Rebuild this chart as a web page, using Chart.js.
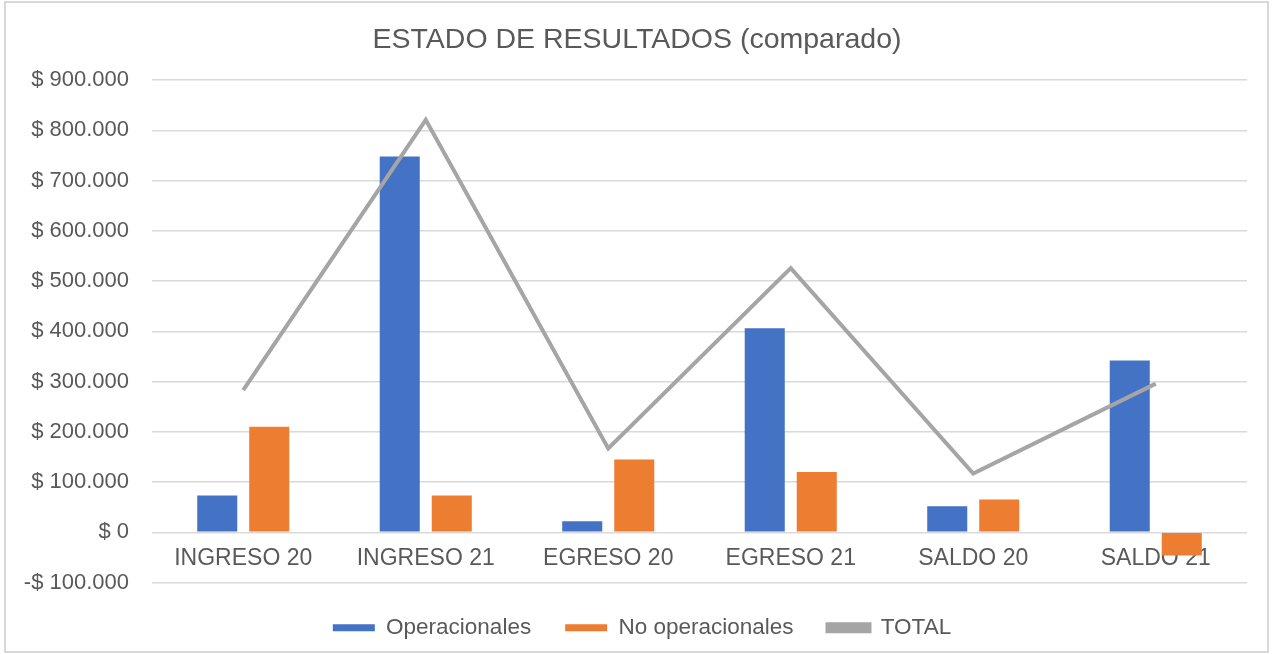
<!DOCTYPE html>
<html>
<head>
<meta charset="utf-8">
<script src="https://cdn.jsdelivr.net/npm/chart.js@4.4.1/dist/chart.umd.min.js"></script>
<style>
  html, body { margin: 0; padding: 0; background: #ffffff; }
  #wrap { position: absolute; left: 0; top: 0; width: 1272px; height: 654px; }
</style>
</head>
<body>
<div id="wrap"><canvas id="c" width="1272" height="654"></canvas></div>
<script>
const categories = ['INGRESO 20', 'INGRESO 21', 'EGRESO 20', 'EGRESO 21', 'SALDO 20', 'SALDO 21'];
const operacionales = [73000, 748000, 22000, 406000, 52000, 342000];
const noOperacionales = [210000, 73000, 145000, 120000, 65000, -46000];
const total = [283000, 821000, 167000, 526000, 117000, 296000];
const seriesNames = ['Operacionales', 'No operacionales', 'TOTAL'];
const chartTitle = 'ESTADO DE RESULTADOS (comparado)';

const textColor = '#595959';
const fontFamily = '"Liberation Sans", Arial, sans-serif';

function fmtMoney(v) {
  const abs = Math.abs(v);
  const s = abs.toString().replace(/\B(?=(\d{3})+(?!\d))/g, '.');
  return (v < 0 ? '-$ ' : '$ ') + s;
}

const framePlugin = {
  id: 'frame',
  afterLayout(chart) {
    // centre title and legend the way the reference does
    if (chart.titleBlock) chart.titleBlock.left = 27;
    if (chart.legend) chart.legend.left = 37;
  },
  beforeDraw(chart) {
    const ctx = chart.ctx;
    ctx.save();
    ctx.fillStyle = '#ffffff';
    ctx.fillRect(0, 0, chart.width, chart.height);
    ctx.strokeStyle = '#d9d9d9';
    ctx.lineWidth = 2;
    ctx.strokeRect(5, 2, chart.width - 9, chart.height - 4);
    ctx.restore();
  }
};

new Chart(document.getElementById('c'), {
  type: 'bar',
  data: {
    labels: categories,
    datasets: [
      {
        type: 'bar',
        label: seriesNames[0],
        data: operacionales,
        backgroundColor: '#4472c4',
        borderWidth: 0,
        order: 1,
        categoryPercentage: 0.57,
        barPercentage: 0.77
      },
      {
        type: 'bar',
        label: seriesNames[1],
        data: noOperacionales,
        backgroundColor: '#ed7d31',
        borderWidth: 0,
        order: 1,
        categoryPercentage: 0.57,
        barPercentage: 0.77
      },
      {
        type: 'line',
        label: seriesNames[2],
        data: total,
        borderColor: '#a5a5a5',
        backgroundColor: '#a5a5a5',
        borderWidth: 4,
        pointRadius: 0,
        pointHoverRadius: 0,
        tension: 0,
        fill: false,
        order: 0
      }
    ]
  },
  options: {
    responsive: false,
    animation: false,
    devicePixelRatio: 1,
    layout: { padding: { left: 10, right: 25, top: 0, bottom: 5 } },
    plugins: {
      title: {
        display: true,
        text: chartTitle,
        color: textColor,
        font: { family: fontFamily, size: 28.5, weight: 'normal' },
        padding: { top: 23, bottom: 23 }
      },
      legend: {
        position: 'bottom',
        labels: {
          color: textColor,
          font: { family: fontFamily, size: 22.5 },
          boxWidth: 42,
          boxHeight: 7,
          padding: 34,
          sort: (a, b) => a.datasetIndex - b.datasetIndex
        }
      },
      tooltip: { enabled: false }
    },
    scales: {
      x: {
        position: { y: 0 },
        grid: { display: false, drawTicks: false },
        border: { display: false },
        ticks: {
          color: textColor,
          font: { family: fontFamily, size: 23 },
          padding: 13,
          maxRotation: 0,
          autoSkip: false
        },
        afterFit(scale) { scale.height = 0; }
      },
      y: {
        min: -100000,
        max: 900000,
        grid: { color: '#d9d9d9', lineWidth: 1.5, drawTicks: false },
        border: { display: false },
        ticks: {
          stepSize: 100000,
          color: textColor,
          font: { family: fontFamily, size: 22 },
          padding: 23,
          callback: (v) => fmtMoney(v)
        },
        afterFit(scale) { scale.width = 142; }
      }
    }
  },
  plugins: [framePlugin]
});
</script>
</body>
</html>
